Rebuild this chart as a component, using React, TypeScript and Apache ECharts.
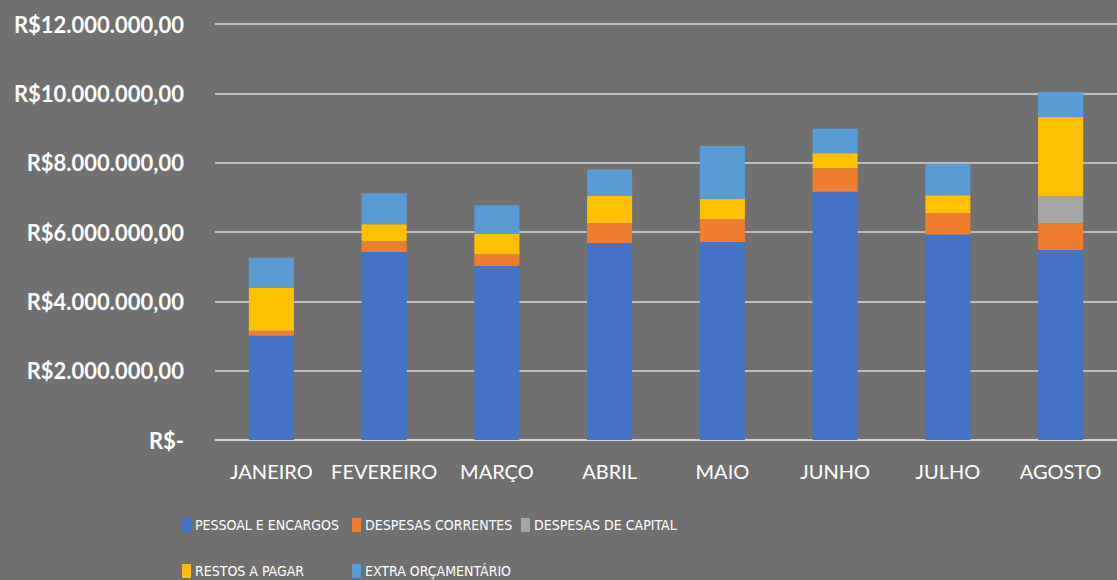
import React, { useEffect, useRef } from "react";
import * as echarts from "echarts";

const categories = ["JANEIRO", "FEVEREIRO", "MARÇO", "ABRIL", "MAIO", "JUNHO", "JULHO", "AGOSTO"];
const pessoal = [3010000, 5420000, 5020000, 5680000, 5710000, 7160000, 5930000, 5480000];
const correntes = [140000, 310000, 340000, 580000, 660000, 680000, 620000, 770000];
const capital = [0, 0, 0, 0, 0, 0, 0, 780000];
const restos = [1250000, 490000, 590000, 780000, 580000, 430000, 510000, 2290000];
const extra = [860000, 900000, 820000, 760000, 1530000, 710000, 910000, 720000];

const seriesNames = [
  "PESSOAL E ENCARGOS",
  "DESPESAS CORRENTES",
  "DESPESAS DE CAPITAL",
  "RESTOS A PAGAR",
  "EXTRA ORÇAMENTÁRIO",
];
const seriesData = [pessoal, correntes, capital, restos, extra];
const colors = ["#4472C4", "#ED7D31", "#A5A5A5", "#FFC000", "#5B9BD5"];

function fmt(v: number): string {
  if (v === 0) return "R$-";
  const s = Math.round(v).toString();
  const parts: string[] = [];
  for (let i = s.length; i > 0; i -= 3) parts.unshift(s.slice(Math.max(0, i - 3), i));
  return "R$" + parts.join(".") + ",00";
}

export default function App() {
  const ref = useRef<HTMLDivElement>(null);
  useEffect(() => {
    if (!ref.current) return;
    const chart = echarts.init(ref.current, undefined, { renderer: "svg" });
    const legendPos = [
      [182, 518],
      [352, 518],
      [521, 518],
      [182, 564],
      [352, 564],
    ];
    const legends = seriesNames.map((name, i) => ({
      left: legendPos[i][0],
      top: legendPos[i][1],
      padding: 0,
      icon: "rect",
      itemWidth: 9,
      itemHeight: 14,
      itemGap: 10,
      selectedMode: false,
      textStyle: {
        color: "#ffffff",
        fontSize: 14,
        fontFamily: "'DejaVu Sans Condensed', 'DejaVu Sans'",
        padding: [0, 0, 0, -1],
      },
      data: [name],
    }));
    chart.setOption({
      animation: false,
      backgroundColor: "#707070",
      color: colors,
      grid: { left: 215, right: 0, top: 24, bottom: 140 },
      legend: legends,
      xAxis: {
        type: "category",
        data: categories,
        axisLine: { show: true, lineStyle: { color: "#d9d9d9", width: 1.5 } },
        axisTick: { show: false },
        axisLabel: { color: "#ffffff", fontSize: 20, fontFamily: "Lato", margin: 21, interval: 0 },
      },
      yAxis: {
        type: "value",
        min: 0,
        max: 12000000,
        interval: 2000000,
        axisLine: { show: false },
        axisTick: { show: false },
        splitLine: { lineStyle: { color: "#d9d9d9", width: 1.5 } },
        axisLabel: {
          color: "#ffffff",
          fontSize: 22,
          fontWeight: "bold",
          fontFamily: "Lato",
          margin: 31,
          formatter: (v: number) => fmt(v),
        },
      },
      series: seriesNames.map((name, i) => ({
        name,
        type: "bar",
        stack: "total",
        barWidth: "40%",
        data: seriesData[i],
        itemStyle: { color: colors[i] },
      })),
    });
    return () => chart.dispose();
  }, []);
  return <div ref={ref} style={{ position: "fixed", left: 0, top: 0, width: 1117, height: 580 }} />;
}
